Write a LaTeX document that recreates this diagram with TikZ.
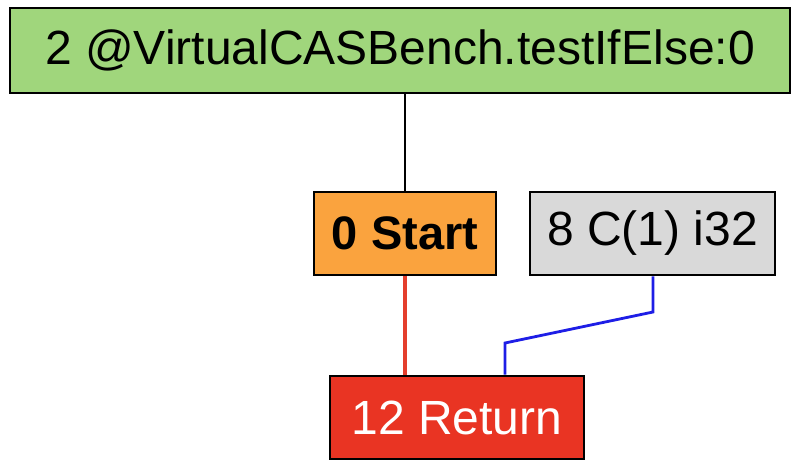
\documentclass[tikz,border=0pt]{standalone}
\usepackage{fontspec}
\setmainfont{Liberation Sans}
\definecolor{topgreen}{RGB}{160,214,124}
\definecolor{startorange}{RGB}{250,163,62}
\definecolor{constgray}{RGB}{217,217,217}
\definecolor{retred}{RGB}{233,52,35}
\definecolor{edgered}{RGB}{228,62,45}
\definecolor{edgeblue}{RGB}{30,30,230}
\tikzset{
  gbox/.style={draw=black, line width=2.6pt, rectangle, inner sep=0pt, font=\fontsize{48}{56}\selectfont},
  ctrl/.style={draw=edgered, line width=4.5pt},
  data/.style={draw=edgeblue, line width=2.8pt},
  assoc/.style={draw=black, line width=2pt}
}
\begin{document}
\begin{tikzpicture}[x=1pt,y=-1pt]
\useasboundingbox (0,0) rectangle (798,461);
\node[gbox, fill=topgreen, minimum width=780pt, minimum height=85pt] (top) at (400,50.5) {2 @VirtualCASBench.testIfElse:0};
\node[gbox, fill=startorange, minimum width=182pt, minimum height=83pt, font=\fontsize{47}{56}\selectfont\bfseries] (start) at (405,233.5) {0 Start};
\node[gbox, fill=constgray, minimum width=245pt, minimum height=83pt] (c) at (652.5,233.5) {8 C(1) i32};
\node[gbox, fill=retred, text=white, minimum width=254pt, minimum height=83pt] (ret) at (457,417.5) {12 Return};
\draw[assoc] (top.south -| start.center) -- (start.north);
\draw[ctrl] (start.south) -- (start.south |- ret.north);
\coordinate (b1) at (653,312);
\coordinate (b2) at (505,343);
\draw[data] (c.south -| b1) -- (b1) -- (b2) -- (b2 |- ret.north);
\end{tikzpicture}
\end{document}
